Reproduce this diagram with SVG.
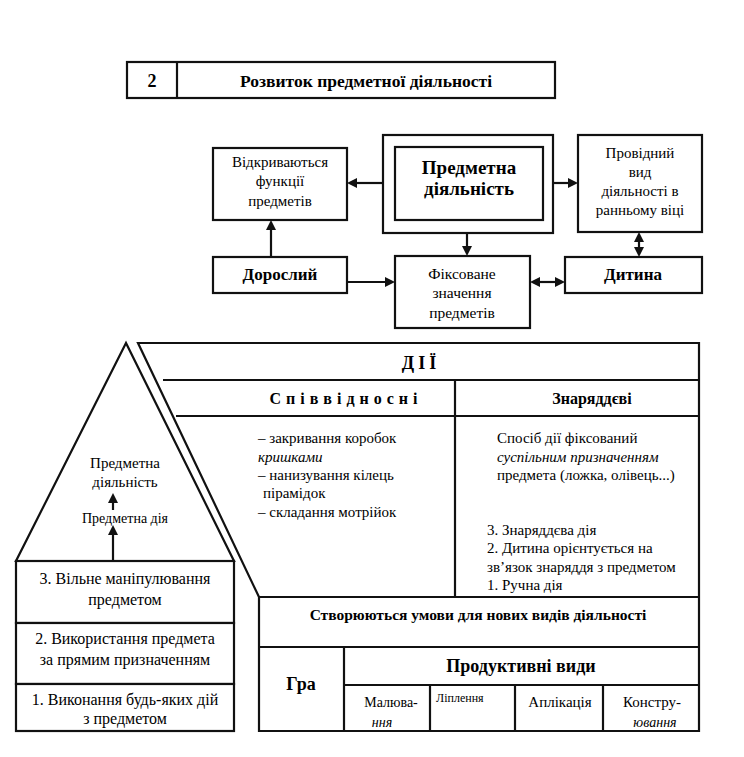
<svg xmlns="http://www.w3.org/2000/svg" width="744" height="757" viewBox="0 0 744 757">
<rect width="744" height="757" fill="#fff"/>

<g id="title" fill="#fff" stroke="#111" stroke-width="2.2">
<rect x="127" y="62" width="428" height="36"/>
<line x1="177" y1="62" x2="177" y2="98"/>
</g>
<text x="152" y="87" font-size="18" font-family="Liberation Serif" font-weight="bold" text-anchor="middle">2</text>
<text x="366" y="87" font-size="17.5" font-family="Liberation Serif" font-weight="bold" text-anchor="middle">Розвиток предметної діяльності</text>

<g id="vidkryvayutsya">
<rect x="213" y="148" width="134" height="72" fill="#fff" stroke="#111" stroke-width="2.2"/>
<text x="280" y="167" font-size="15" font-family="Liberation Serif" text-anchor="middle">Відкриваються</text>
<text x="280" y="186" font-size="15" font-family="Liberation Serif" text-anchor="middle">функції</text>
<text x="280" y="206" font-size="15" font-family="Liberation Serif" text-anchor="middle">предметів</text>
</g>

<g id="predmetna">
<rect x="383" y="135" width="170" height="98" fill="#fff" stroke="#111" stroke-width="2.2"/>
<rect x="395" y="147" width="148" height="73" fill="#fff" stroke="#111" stroke-width="2.2"/>
<text x="469" y="174" font-size="19" font-family="Liberation Serif" font-weight="bold" text-anchor="middle">Предметна</text>
<text x="469" y="195" font-size="19" font-family="Liberation Serif" font-weight="bold" text-anchor="middle">діяльність</text>
</g>

<g id="providnyi">
<rect x="578" y="135" width="124" height="97" fill="#fff" stroke="#111" stroke-width="2.2"/>
<text x="640" y="158" font-size="15" font-family="Liberation Serif" text-anchor="middle">Провідний</text>
<text x="640" y="177" font-size="15" font-family="Liberation Serif" text-anchor="middle">вид</text>
<text x="640" y="196" font-size="15" font-family="Liberation Serif" text-anchor="middle">діяльності в</text>
<text x="640" y="215" font-size="15" font-family="Liberation Serif" text-anchor="middle">ранньому віці</text>
</g>

<g id="doroslyi">
<rect x="213" y="257" width="134" height="36" fill="#fff" stroke="#111" stroke-width="2.2"/>
<text x="280" y="280" font-size="17" font-family="Liberation Serif" font-weight="bold" text-anchor="middle">Дорослий</text>
</g>

<g id="fiksovane">
<rect x="395" y="256" width="135" height="72" fill="#fff" stroke="#111" stroke-width="2.2"/>
<text x="462" y="279" font-size="15.5" font-family="Liberation Serif" text-anchor="middle">Фіксоване</text>
<text x="462" y="298" font-size="15.5" font-family="Liberation Serif" text-anchor="middle">значення</text>
<text x="462" y="318" font-size="15.5" font-family="Liberation Serif" text-anchor="middle">предметів</text>
</g>

<g id="dytyna">
<rect x="565" y="257" width="137" height="36" fill="#fff" stroke="#111" stroke-width="2.2"/>
<text x="633" y="280" font-size="17" font-family="Liberation Serif" font-weight="bold" text-anchor="middle">Дитина</text>
</g>

<g id="pyramid">
<polygon points="126,343 16,561 234,561" fill="#fff" stroke="#111" stroke-width="2.2"/>
<text x="125" y="468" font-size="15" font-family="Liberation Serif" text-anchor="middle">Предметна</text>
<text x="125" y="487" font-size="15" font-family="Liberation Serif" text-anchor="middle">діяльність</text>
<text x="125" y="523" font-size="14" font-family="Liberation Serif" text-anchor="middle">Предметна дія</text>
</g>
<g id="level3">
<rect x="16" y="561" width="218" height="62" fill="#fff" stroke="#111" stroke-width="2.2"/>
<text x="125" y="584" font-size="16" font-family="Liberation Serif" text-anchor="middle">3. Вільне маніпулювання</text>
<text x="125" y="605" font-size="16" font-family="Liberation Serif" text-anchor="middle">предметом</text>
</g>
<g id="level2">
<rect x="16" y="623" width="218" height="61" fill="#fff" stroke="#111" stroke-width="2.2"/>
<text x="125" y="644" font-size="16" font-family="Liberation Serif" text-anchor="middle">2. Використання предмета</text>
<text x="125" y="665" font-size="16" font-family="Liberation Serif" text-anchor="middle">за прямим призначенням</text>
</g>
<g id="level1">
<rect x="16" y="684" width="218" height="47" fill="#fff" stroke="#111" stroke-width="2.2"/>
<text x="125" y="705" font-size="16" font-family="Liberation Serif" text-anchor="middle">1. Виконання будь-яких дій</text>
<text x="125" y="724" font-size="16" font-family="Liberation Serif" text-anchor="middle">з предметом</text>
</g>

<g id="dii-frame" fill="none" stroke="#111" stroke-width="2.2">
<polygon points="138,343 699,343 699,731 259,731 259,597" fill="#fff"/>
<line x1="163" y1="380" x2="699" y2="380"/>
<line x1="176" y1="416" x2="699" y2="416"/>
<line x1="455" y1="380" x2="455" y2="597"/>
<line x1="259" y1="597" x2="699" y2="597"/>
<line x1="259" y1="647" x2="699" y2="647"/>
<line x1="344" y1="647" x2="344" y2="731"/>
<line x1="344" y1="685" x2="699" y2="685"/>
<line x1="430" y1="685" x2="430" y2="731"/>
<line x1="515" y1="685" x2="515" y2="731"/>
<line x1="603" y1="685" x2="603" y2="731"/>
</g>
<g id="dii">
<text x="421" y="369" font-size="18" letter-spacing="4" font-family="Liberation Serif" font-weight="bold" text-anchor="middle">ДІЇ</text>
</g>

<g id="spivvidnosni">
<text x="346" y="404" font-size="16" letter-spacing="5" font-family="Liberation Serif" font-weight="bold" text-anchor="middle">Співвідносні</text>
<text x="258" y="443" font-size="15" font-family="Liberation Serif">– закривання коробок</text>
<text x="258" y="462" font-size="15" font-family="Liberation Serif" font-style="italic">кришками</text>
<text x="258" y="480" font-size="15" font-family="Liberation Serif">– нанизування кілець</text>
<text x="263" y="498" font-size="15" font-family="Liberation Serif">пірамідок</text>
<text x="258" y="517" font-size="15" font-family="Liberation Serif">– складання мотрійок</text>
</g>

<g id="znaryaddevi">
<text x="592" y="404" font-size="16" font-family="Liberation Serif" font-weight="bold" text-anchor="middle">Знаряддєві</text>
<text x="497" y="443" font-size="15" font-family="Liberation Serif">Спосіб дії фіксований</text>
<text x="497" y="462" font-size="15" font-family="Liberation Serif" font-style="italic">суспільним призначенням</text>
<text x="497" y="480" font-size="15" font-family="Liberation Serif">предмета (ложка, олівець...)</text>
<text x="487" y="535" font-size="15" font-family="Liberation Serif">3. Знаряддєва дія</text>
<text x="487" y="553" font-size="15" font-family="Liberation Serif">2. Дитина орієнтується на</text>
<text x="487" y="572" font-size="15" font-family="Liberation Serif">зв’язок знаряддя з предметом</text>
<text x="487" y="590" font-size="15" font-family="Liberation Serif">1. Ручна дія</text>
</g>

<g id="stvoryuyutsya">
<text x="478" y="620" font-size="15.5" font-family="Liberation Serif" font-weight="bold" text-anchor="middle">Створюються умови для нових видів діяльності</text>
</g>
<g id="gra">
<text x="301" y="690" font-size="18" font-family="Liberation Serif" font-weight="bold" text-anchor="middle">Гра</text>
</g>
<g id="produktyvni">
<text x="521" y="672" font-size="18" font-family="Liberation Serif" font-weight="bold" text-anchor="middle">Продуктивні види</text>
</g>
<g id="malyuvannya">
<text x="391" y="707" font-size="14" font-family="Liberation Serif" text-anchor="middle">Малюва-</text>
<text x="382" y="727" font-size="14" font-family="Liberation Serif" font-style="italic" text-anchor="middle">ння</text>
</g>
<g id="liplennya">
<text x="436" y="702" font-size="12" font-family="Liberation Serif">Ліплення</text>
</g>
<g id="aplikatsiya">
<text x="560" y="707" font-size="15" font-family="Liberation Serif" text-anchor="middle">Аплікація</text>
</g>
<g id="konstruyuvannya">
<text x="652" y="707" font-size="15" font-family="Liberation Serif" text-anchor="middle">Констру-</text>
<text x="655" y="727" font-size="14" font-family="Liberation Serif" font-style="italic" text-anchor="middle">ювання</text>
</g>

<g id="connectors" stroke="#111" stroke-width="2.2" fill="#111">
<line x1="383" y1="183" x2="355" y2="183"/>
<polygon points="347,183 357,178 357,188" stroke="none"/>
<line x1="553" y1="183" x2="570" y2="183"/>
<polygon points="578,183 568,178 568,188" stroke="none"/>
<line x1="467" y1="233" x2="467" y2="248"/>
<polygon points="467,256 462,246 472,246" stroke="none"/>
<line x1="271" y1="257" x2="271" y2="228"/>
<polygon points="271,220 266,230 276,230" stroke="none"/>
<line x1="347" y1="282" x2="387" y2="282"/>
<polygon points="395,282 385,277 385,287" stroke="none"/>
<line x1="538" y1="282" x2="557" y2="282"/>
<polygon points="530,282 540,277 540,287" stroke="none"/>
<polygon points="565,282 555,277 555,287" stroke="none"/>
<line x1="639" y1="240" x2="639" y2="249"/>
<polygon points="639,232 634,242 644,242" stroke="none"/>
<polygon points="639,257 634,247 644,247" stroke="none"/>
<line x1="113" y1="561" x2="113" y2="533"/>
<polygon points="113,525 108,535 118,535" stroke="none"/>
<line x1="113" y1="510" x2="113" y2="501"/>
<polygon points="113,493 108,503 118,503" stroke="none"/>
</g>
</svg>
